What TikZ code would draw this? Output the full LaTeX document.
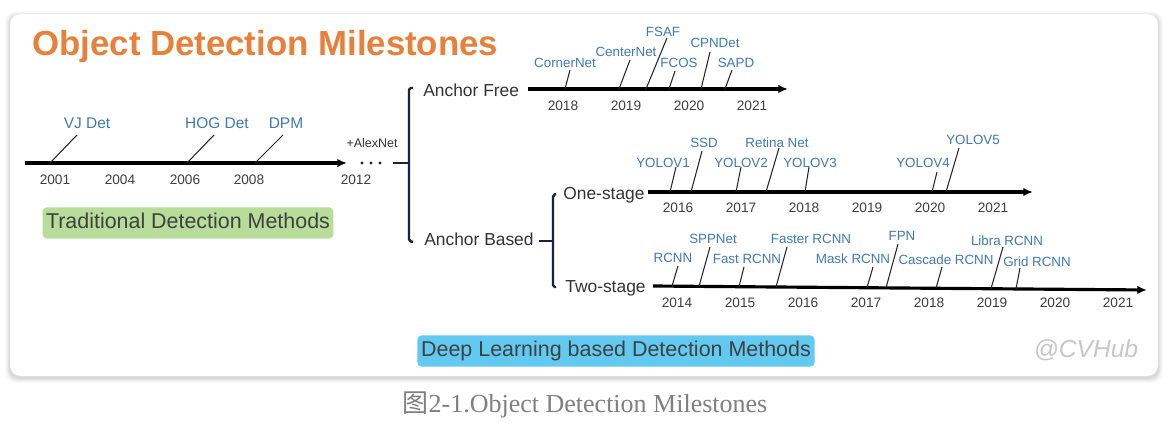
\documentclass[tikz,border=0pt]{standalone}
\usepackage{fontspec}
\setmainfont{Liberation Sans}
\newfontfamily\capfont{Liberation Serif}
\newfontfamily\cjkfont{Noto Sans CJK SC}
\usetikzlibrary{arrows.meta,positioning,calc}
\definecolor{titleorange}{HTML}{E8803A}
\definecolor{milestoneblue}{HTML}{3F7AB8}
\definecolor{yeargray}{HTML}{404040}
\definecolor{bracketnavy}{HTML}{1B1F45}
\definecolor{tradgreen}{HTML}{B8DD9B}
\definecolor{deepblue}{HTML}{62C9F0}

\begin{document}
\begin{tikzpicture}[x=0.02cm,y=-0.02cm,
    lbl/.style={text=milestoneblue,font=\fontsize{7.6}{8}\selectfont,inner sep=0pt,text height=5.4pt,text depth=0pt},
    yr/.style={text=yeargray,font=\fontsize{7.8}{8}\selectfont,inner sep=0pt,text height=5.6pt,text depth=0pt},
    branch/.style={text=black!80,font=\fontsize{9.9}{10}\selectfont,inner sep=0pt,text height=7.1pt,text depth=0pt,anchor=west},
    axis/.style={line width=1.8pt,-{Latex[length=5.5pt,width=4.8pt]}},
    tick/.style={line width=0.6pt,black!85},
    brk/.style={line width=1.4pt,bracketnavy,rounded corners=1pt},
    method/.style={rounded corners=2.5pt,text=black!75,font=\fontsize{12.2}{13}\selectfont,inner xsep=2pt,text height=8.7pt,text depth=2.5pt}]
    \useasboundingbox (0,0) rectangle (1171,426);
    \fill[white] (0,0) rectangle (1171,426);
    % card with a soft shadow
    \foreach \s/\o in {5/0.02,4/0.025,3/0.03,2/0.035,1/0.04}{\fill[black,opacity=\o,rounded corners=6pt] (10-\s,14-\s+2) rectangle (1158+\s,376+\s+2);}
    \fill[white,rounded corners=6pt] (10,14) rectangle (1158,376);
    \node[anchor=west,inner sep=0pt,text height=14pt,text depth=0pt,text=titleorange,font=\bfseries\fontsize{19.8}{20}\selectfont] (title) at (32,43) {Object Detection Milestones};

    % traditional methods
    \coordinate (trad start) at (25,163);
    \coordinate (trad end) at (347,163);
    \draw[axis] (trad start) -- (trad end);
    \foreach \yr/\x in {2001/55,2004/120,2006/185,2008/249,2012/356}{\node[yr] (trad \yr) at (\x,180) {\yr};}
    \foreach \name/\lx/\ly/\bx/\by/\tx/\ty [count=\i] in {VJ Det/87/123/50/163/77/135, HOG Det/217/123/187/163/214/135, DPM/286/123/255/163/283/135}{
        \node[lbl,font=\fontsize{8.8}{9}\selectfont,text height=6.3pt] (trad m\i) at (\lx,\ly) {\name};
        \coordinate (trad b\i) at (\bx,\by);
        \coordinate (trad t\i) at (\tx,\ty);
        \draw[tick] (trad b\i) -- (trad t\i);
    }
    \foreach \x in {362,371,380}{\fill[black!85] (\x,163) circle (0.9pt);}
    \node[font=\fontsize{7.1}{8}\selectfont,text=black!80,inner sep=0pt,text height=5.1pt,text depth=0pt] (alexnet) at (372,143) {+AlexNet};
    \node[method,fill=tradgreen,minimum width=165pt,minimum height=17pt] (trad) at (188,223) {Traditional Detection Methods};

    % deep learning branches
    \node[branch] (af) at (423,90) {Anchor Free};
    \node[branch] (ab) at (424,239) {Anchor Based};
    \node[branch] (os) at (563,193) {One-stage};
    \node[branch] (ts) at (565,286) {Two-stage};
    \coordinate (split) at (409,163);
    \coordinate (dash a) at (393,163);
    \draw[brk] (dash a) -- (split);
    \draw[brk] ($(af.west)+(-10,-2)$) -- (409,88) -- (409,241) -- ($(ab.west)+(-11,3)$);
    \coordinate (split2) at (553,241);
    \draw[brk] ($(ab.east)+(5,2)$) -- (split2);
    \draw[brk] ($(os.west)+(-7,1)$) -- (553,195) -- (553,287) -- ($(ts.west)+(-9,1)$);

    % anchor free
    \coordinate (af start) at (528,89);
    \coordinate (af end) at (788,89);
    \draw[axis] (af start) -- (af end);
    \foreach \yr/\x in {2018/563,2019/626,2020/689,2021/752}{\node[yr] (af \yr) at (\x,106) {\yr};}
    \foreach \name/\lx/\ly/\bx/\by/\tx/\ty [count=\i] in {CornerNet/565/63/565/89/570/70, CenterNet/626/52/619/89/630/60, FSAF/663/32/646/89/667/38, FCOS/679/63/669/89/675/71, CPNDet/715/43/701/89/710/52, SAPD/736/63/725/89/732/70}{
        \node[lbl] (af m\i) at (\lx,\ly) {\name};
        \coordinate (af b\i) at (\bx,\by);
        \coordinate (af t\i) at (\tx,\ty);
        \draw[tick] (af b\i) -- (af t\i);
    }

    % one-stage
    \coordinate (os start) at (648,192);
    \coordinate (os end) at (1033,192);
    \draw[axis] (os start) -- (os end);
    \foreach \yr/\x in {2016/678,2017/741,2018/804,2019/867,2020/930,2021/993}{\node[yr] (os \yr) at (\x,208) {\yr};}
    \foreach \name/\lx/\ly/\bx/\by/\tx/\ty [count=\i] in {YOLOV1/663/163/670/192/676/167, SSD/704/143/691/192/702/151, YOLOV2/741/163/736/192/741/167, Retina Net/777/143/766/192/779/148, YOLOV3/810/163/805/192/809/167, YOLOV4/923/163/932/192/937/172, YOLOV5/973/140/946/192/959/148}{
        \node[lbl] (os m\i) at (\lx,\ly) {\name};
        \coordinate (os b\i) at (\bx,\by);
        \coordinate (os t\i) at (\tx,\ty);
        \draw[tick] (os b\i) -- (os t\i);
    }

    % two-stage
    \coordinate (ts start) at (653,286);
    \coordinate (ts end) at (1147,290);
    \draw[axis] (ts start) -- (ts end);
    \foreach \yr/\x in {2014/677,2015/740,2016/803,2017/866,2018/929,2019/992,2020/1055,2021/1118}{\node[yr] (ts \yr) at (\x,303) {\yr};}
    \foreach \name/\lx/\ly/\bx/\by/\tx/\ty [count=\i] in {RCNN/673/258/672/286.2/678/266, SPPNet/713/239/699/286.4/710/247, Fast RCNN/747/259/739/286.7/744/267, Faster RCNN/811/239/776/287/787/247, Mask RCNN/853/259/867/287.7/873/267, FPN/902/236/886/287.9/898/244, Cascade RCNN/946/260/936/288.3/942/267, Libra RCNN/1007/241/991/288.7/1003/247, Grid RCNN/1037/262/1016/288.9/1020/268}{
        \node[lbl] (ts m\i) at (\lx,\ly) {\name};
        \coordinate (ts b\i) at (\bx,\by);
        \coordinate (ts t\i) at (\tx,\ty);
        \draw[tick] (ts b\i) -- (ts t\i);
    }

    \node[method,fill=deepblue,minimum width=226pt,minimum height=15.3pt] (deep) at (616,351) {Deep Learning based Detection Methods};
    \node[font=\itshape\fontsize{14}{15}\selectfont,text=black!22,inner sep=0pt] (watermark) at (1086,350) {@CVHub};
    \node[font=\capfont\fontsize{14.8}{16}\selectfont,text=black!50,inner sep=0pt] (caption) at (585,405) {{\cjkfont 图}2-1.Object Detection Milestones};
\end{tikzpicture}
\end{document}
